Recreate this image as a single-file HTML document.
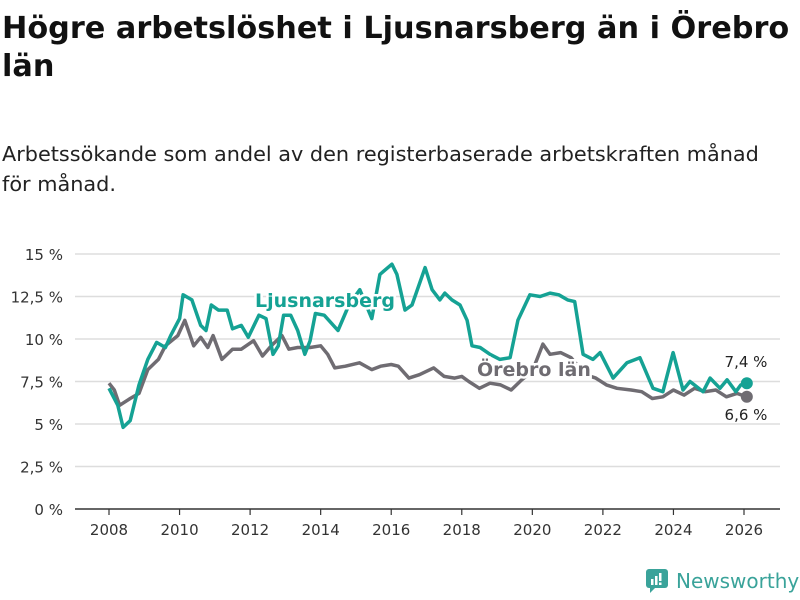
<!DOCTYPE html>
<html><head><meta charset="utf-8"><style>
body{margin:0;background:#fff;font-family:"DejaVu Sans","Liberation Sans",sans-serif;}
#wrap{position:relative;width:800px;height:600px;overflow:hidden;}
h1{position:absolute;left:2px;top:10px;margin:0;font-size:30.3px;line-height:38px;font-weight:bold;color:#111;width:796px;}
.sub{position:absolute;left:2px;top:139px;font-size:20.8px;line-height:30px;color:#222;width:785px;}
</style></head><body>
<div id="wrap">
<h1>Högre arbetslöshet i Ljusnarsberg än i Örebro län</h1>
<div class="sub">Arbetssökande som andel av den registerbaserade arbetskraften månad för månad.</div>
<svg id="chart" width="800" height="600" style="position:absolute;left:0;top:0"></svg>
<div style="position:absolute;left:646px;top:569px;display:flex;align-items:center;">
<svg width="22" height="24"><rect x="0" y="0" width="22" height="19" rx="3" fill="#3aa39a"/><path d="M4 19 L4 24 L9 19Z" fill="#3aa39a"/><rect x="5" y="10" width="2.5" height="6" fill="#fff"/><rect x="9" y="7" width="2.5" height="9" fill="#fff"/><rect x="13" y="4" width="2.5" height="8" fill="#fff"/><rect x="13" y="13.5" width="2.5" height="2.5" fill="#fff"/></svg>
<span style="font-size:20px;color:#3aa39a;margin-left:8px;">Newsworthy</span></div>
</div>
<script>
const yTicks=[0,2.5,5,7.5,10,12.5,15];
const yTickLabels=["0 %","2,5 %","5 %","7,5 %","10 %","12,5 %","15 %"];
const xTicks=[2008,2010,2012,2014,2016,2018,2020,2022,2024,2026];
const ljTimes=[2008.0,2008.25,2008.4,2008.6,2008.85,2009.1,2009.35,2009.6,2009.75,2010.0,2010.1,2010.35,2010.6,2010.75,2010.9,2011.1,2011.35,2011.5,2011.75,2011.95,2012.25,2012.45,2012.65,2012.8,2012.95,2013.15,2013.35,2013.55,2013.7,2013.85,2014.1,2014.49,2014.8,2015.11,2015.45,2015.68,2016.02,2016.16,2016.39,2016.59,2016.96,2017.16,2017.38,2017.52,2017.72,2017.95,2018.15,2018.29,2018.52,2018.8,2019.08,2019.37,2019.59,2019.93,2020.22,2020.5,2020.75,2021.0,2021.2,2021.44,2021.72,2021.92,2022.29,2022.68,2023.05,2023.42,2023.7,2023.99,2024.27,2024.47,2024.84,2025.04,2025.32,2025.52,2025.77,2025.91,2026.08];
const ljValues=[7.1,6.1,4.8,5.2,7.3,8.8,9.8,9.5,10.2,11.2,12.6,12.3,10.8,10.5,12.0,11.7,11.7,10.6,10.8,10.1,11.4,11.2,9.1,9.6,11.4,11.4,10.5,9.1,9.9,11.5,11.4,10.5,12.0,12.9,11.2,13.8,14.4,13.8,11.7,12.0,14.2,12.9,12.3,12.7,12.3,12.0,11.1,9.6,9.5,9.1,8.8,8.9,11.1,12.6,12.5,12.7,12.6,12.3,12.2,9.1,8.8,9.2,7.7,8.6,8.9,7.1,6.9,9.2,7.0,7.5,6.9,7.7,7.1,7.6,6.9,7.3,7.4];
const orTimes=[2008.0,2008.15,2008.3,2008.6,2008.85,2009.1,2009.4,2009.6,2009.95,2010.15,2010.4,2010.6,2010.8,2010.95,2011.2,2011.5,2011.75,2012.1,2012.35,2012.6,2012.9,2013.1,2013.35,2013.7,2014.0,2014.2,2014.4,2014.7,2015.1,2015.45,2015.7,2016.0,2016.2,2016.5,2016.8,2017.2,2017.5,2017.8,2018.0,2018.2,2018.5,2018.8,2019.1,2019.4,2019.7,2020.0,2020.3,2020.5,2020.8,2021.1,2021.5,2021.8,2022.1,2022.4,2022.8,2023.1,2023.4,2023.7,2024.0,2024.3,2024.6,2024.9,2025.2,2025.5,2025.8,2026.08];
const orValues=[7.4,7.0,6.1,6.5,6.8,8.2,8.8,9.6,10.2,11.1,9.6,10.1,9.5,10.2,8.8,9.4,9.4,9.9,9.0,9.6,10.2,9.4,9.5,9.5,9.6,9.1,8.3,8.4,8.6,8.2,8.4,8.5,8.4,7.7,7.9,8.3,7.8,7.7,7.8,7.5,7.1,7.4,7.3,7.0,7.6,8.1,9.7,9.1,9.2,8.9,7.9,7.7,7.3,7.1,7.0,6.9,6.5,6.6,7.0,6.7,7.1,6.9,7.0,6.6,6.8,6.6];
const NS="http://www.w3.org/2000/svg";
const svg=document.getElementById('chart');
const xs=t=>109+(t-2008)*(635/18);
const ys=v=>509-v*17;
function mk(tag,attrs,parent){const e=document.createElementNS(NS,tag);for(const k in attrs)e.setAttribute(k,attrs[k]);(parent||svg).appendChild(e);return e;}
yTicks.forEach((v,i)=>{
  if(v>0){const g=mk('line',{x1:75,x2:780,y1:ys(v),y2:ys(v),stroke:'#ddd','stroke-width':1.5});
  
  }
  const t=mk('text',{x:63,y:ys(v)+6,'text-anchor':'end','font-size':15,fill:'#333'});
  t.textContent=yTickLabels[i];
  
  
});
const ax=mk('line',{x1:75,x2:780,y1:509,y2:509,stroke:'#333','stroke-width':1.5});


xTicks.forEach(y=>{
  const tk=mk('line',{x1:xs(y),x2:xs(y),y1:509,y2:515,stroke:'#333','stroke-width':1.2});
  
  
  const t=mk('text',{x:xs(y),y:535,'text-anchor':'middle','font-size':15,fill:'#333'});
  t.textContent=y;
  
  
});
function line(times,vals,color,name){
  const d=times.map((t,i)=>(i?'L':'M')+xs(t).toFixed(1)+' '+ys(vals[i]).toFixed(1)).join(' ');
  const p=mk('path',{d:d,fill:'none',stroke:color,'stroke-width':3.5,'stroke-linejoin':'round'});
  
  
  const n=times.length-1;
  const c=mk('circle',{cx:xs(times[n]),cy:ys(vals[n]),r:6,fill:color});
  
  
}
line(orTimes,orValues,'#6f6c72','orebro-lan-line');
line(ljTimes,ljValues,'#15a294','ljusnarsberg-line');
function lab(x,y,txt,color,name,size,weight,anchor){
  const t=mk('text',{x:x,y:y,'font-size':size,'font-weight':weight,fill:color,'text-anchor':anchor||'start',stroke:'#fff','stroke-width':weight==='bold'?5:0,'paint-order':'stroke'});
  t.textContent=txt;
  
  
}
lab(255,307,'Ljusnarsberg','#15a294','ljusnarsberg-label',19,'bold');
lab(477,376,'Örebro län','#6f6c72','orebro-lan-label',19,'bold');
const n1=ljValues.length-1,n2=orValues.length-1;
lab(746,367,ljValues[n1].toFixed(1).replace('.',',')+' %','#222','ljusnarsberg-value-label',15,'normal','middle');
lab(746,420,orValues[n2].toFixed(1).replace('.',',')+' %','#222','orebro-value-label',15,'normal','middle');
</script>
</body></html>
